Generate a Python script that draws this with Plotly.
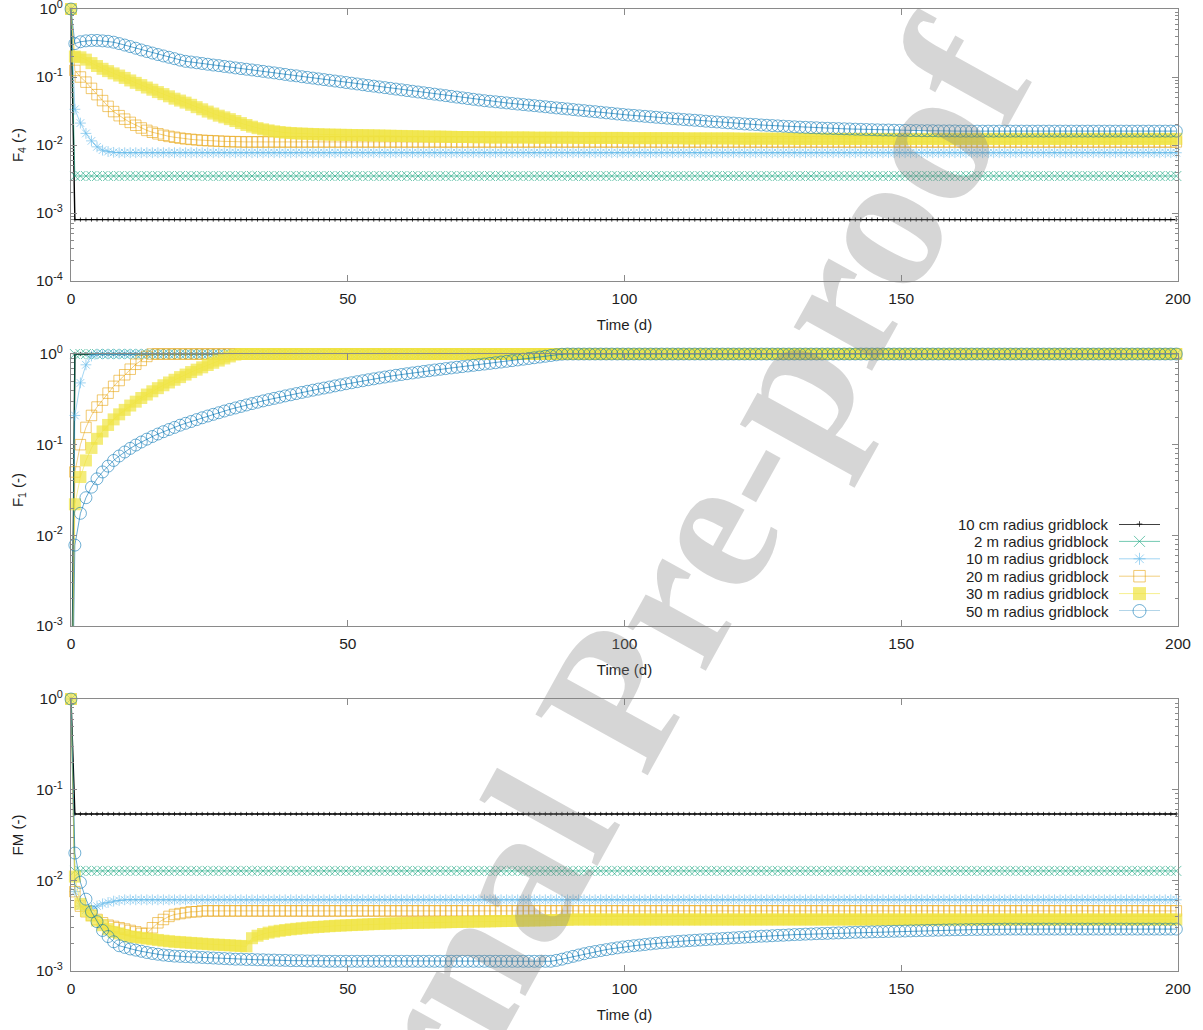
import plotly.graph_objects as go

# ---------------------------------------------------------------------------
# Simulated fractions versus time for six gridblock sizes
# ---------------------------------------------------------------------------
time_d = [0.0] + [k + 0.7 for k in range(200)]

series_names = [
    "10 cm radius gridblock",
    "2 m radius gridblock",
    "10 m radius gridblock",
    "20 m radius gridblock",
    "30 m radius gridblock",
    "50 m radius gridblock",
]

# ---- F4 ----
f4_10cm = [1.0] + [0.0008] * 200
f4_2m = [1.0] + [0.0035] * 200
f4_10m = [1.0, 0.0335, 0.021, 0.0148, 0.0115, 0.0094, 0.0084, 0.0080, 0.0078] + [0.0077] * 192
f4_20m = [1.0, 0.125, 0.100, 0.084, 0.068, 0.055, 0.045, 0.037, 0.031, 0.027, 0.024,
          0.0215, 0.0195, 0.0178, 0.0164, 0.0154, 0.0146, 0.0139, 0.0134, 0.0130, 0.0126,
          0.0123, 0.0121, 0.0119, 0.0117, 0.0116, 0.0115, 0.0114, 0.0113, 0.0112, 0.0112] + [0.0111] * 170
f4_30m = ([1.0, 0.20, 0.195, 0.18, 0.16, 0.145, 0.132, 0.122, 0.113, 0.105, 0.097,
           0.089, 0.082, 0.076, 0.070, 0.065, 0.060, 0.056, 0.052, 0.048, 0.045,
           0.042, 0.039, 0.036, 0.0335, 0.031, 0.029, 0.027, 0.0255, 0.024, 0.0225,
           0.021, 0.0197, 0.0186, 0.0177, 0.0170, 0.0164, 0.0159, 0.0155, 0.0152, 0.0150,
           0.0148, 0.0147, 0.0146, 0.0145, 0.0144, 0.0143, 0.0142, 0.0142, 0.0141, 0.0141,
           0.0140, 0.0140, 0.0139, 0.0139, 0.0138, 0.0138, 0.0137, 0.0137, 0.0136, 0.0136,
           0.0135, 0.0135, 0.0134, 0.0134, 0.0133, 0.0133, 0.0133, 0.0132, 0.0132, 0.0131,
           0.0131, 0.0131, 0.0130, 0.0130, 0.0130]
          + [0.0129] * 8 + [0.0128] * 8 + [0.0127] * 9
          + [0.0126] * 10 + [0.0125] * 10 + [0.0124] * 10
          + [0.0123] * 70)
f4_50m = ([1.0, 0.31, 0.33, 0.34, 0.345, 0.345, 0.34, 0.335, 0.325, 0.31, 0.295,
           0.28, 0.265, 0.25, 0.237, 0.225, 0.214, 0.204, 0.195, 0.186, 0.177,
           0.170, 0.166, 0.162, 0.158, 0.154, 0.150, 0.147, 0.143, 0.140, 0.136,
           0.133, 0.130, 0.127, 0.124, 0.121, 0.118, 0.115, 0.112, 0.109, 0.106,
           0.104, 0.101, 0.0987, 0.0963, 0.0939, 0.0916, 0.0894, 0.0872, 0.0851, 0.083,
           0.081, 0.079, 0.077, 0.075, 0.0733, 0.0715, 0.0698, 0.0681, 0.0664, 0.0648,
           0.0632, 0.0617, 0.0602, 0.0587, 0.0573, 0.0559, 0.0545, 0.0532, 0.0519, 0.0506,
           0.0494, 0.0482, 0.0470, 0.0459, 0.0448, 0.0440, 0.0432, 0.0424, 0.0416, 0.0408,
           0.0400, 0.0393, 0.0386, 0.0379, 0.0372, 0.0365, 0.0358, 0.0351, 0.0345, 0.0339,
           0.0332, 0.0326, 0.0320, 0.0314, 0.0309, 0.0303, 0.0297, 0.0292, 0.0286, 0.0281,
           0.0276, 0.0272, 0.0268, 0.0264, 0.0260, 0.0256, 0.0252, 0.0248, 0.0244, 0.0241,
           0.0237, 0.0234, 0.0231, 0.0228, 0.0224, 0.0221, 0.0218, 0.0215, 0.0212, 0.0210,
           0.0207, 0.0204, 0.0202, 0.0200, 0.0197, 0.0195, 0.0193, 0.0191, 0.0189, 0.0187,
           0.0185, 0.0183, 0.0182, 0.0180, 0.0179, 0.0177, 0.0176, 0.0175, 0.0174, 0.0173,
           0.0172, 0.0171, 0.0170, 0.0169, 0.0168, 0.0167, 0.0166, 0.0166, 0.0165, 0.0164,
           0.0164, 0.0163, 0.0163, 0.0162, 0.0162, 0.0162, 0.0161, 0.0161, 0.0161, 0.0161]
          + [0.0160] * 40)

# ---- F1 (zero at t = 0, stored as a tiny positive value for the log axis) ----
f1_10cm = [1e-5] + [1.0] * 200
f1_2m = [1e-5] + [1.0] * 200
f1_10m = [1e-5, 0.21, 0.48, 0.76, 0.95] + [1.0] * 196
f1_20m = [1e-5, 0.05, 0.10, 0.155, 0.21, 0.26, 0.31, 0.37, 0.44, 0.51, 0.59,
          0.68, 0.77, 0.85, 0.94, 1.0] + [1.0] * 185
f1_30m = [1e-5, 0.022, 0.044, 0.067, 0.092, 0.116, 0.140, 0.165, 0.190, 0.216, 0.242,
          0.27, 0.298, 0.327, 0.357, 0.388, 0.42, 0.452, 0.485, 0.52, 0.556,
          0.593, 0.632, 0.672, 0.713, 0.756, 0.80, 0.846, 0.893, 0.94, 0.985] + [1.0] * 170
f1_50m = ([1e-5, 0.0078, 0.0175, 0.026, 0.034, 0.042, 0.050, 0.058, 0.067, 0.075, 0.083,
           0.091, 0.099, 0.107, 0.115, 0.123, 0.131, 0.139, 0.147, 0.155, 0.164,
           0.172, 0.180, 0.189, 0.198, 0.207, 0.216, 0.225, 0.235, 0.245, 0.254,
           0.264, 0.274, 0.284, 0.294, 0.304, 0.314, 0.324, 0.334, 0.345, 0.355,
           0.366, 0.377, 0.388, 0.399, 0.410, 0.421, 0.432, 0.445, 0.457, 0.470,
           0.482, 0.495, 0.507, 0.520, 0.532, 0.545, 0.557, 0.570, 0.582, 0.594,
           0.606, 0.618, 0.630, 0.642, 0.654, 0.666, 0.678, 0.690, 0.702, 0.714,
           0.726, 0.738, 0.750, 0.762, 0.775, 0.788, 0.801, 0.815, 0.830, 0.845,
           0.860, 0.876, 0.892, 0.909, 0.926, 0.944, 0.962, 0.980, 0.995]
          + [1.0] * 111)

# ---- FM ----
fm_10cm = [1.0] + [0.054] * 200
fm_2m = [1.0] + [0.0127] * 200
fm_10m = [1.0, 0.0075, 0.0052, 0.0047, 0.0049, 0.0052, 0.0055, 0.0057, 0.0059, 0.0060] + [0.0061] * 191
fm_20m = [1.0, 0.0075, 0.0052, 0.0045, 0.0041, 0.0037, 0.0034, 0.0032, 0.0031, 0.0030, 0.0029,
          0.0028, 0.0027, 0.0026, 0.0026, 0.0030, 0.0034, 0.0037, 0.0040, 0.0042, 0.0043,
          0.0044, 0.0045, 0.0045, 0.0046] + [0.0046] * 176
fm_30m = ([1.0, 0.011, 0.0055, 0.0046, 0.0041, 0.0036, 0.0032, 0.0029, 0.0027, 0.0026, 0.0025,
           0.0024, 0.00237, 0.00232, 0.00228, 0.00224, 0.0022, 0.00216, 0.00213, 0.0021, 0.00208,
           0.00206, 0.00204, 0.00202, 0.0020, 0.00198, 0.00196, 0.00195, 0.00193, 0.00192, 0.0019,
           0.00189, 0.00187, 0.0023, 0.00245, 0.00256, 0.00265, 0.00272, 0.00278, 0.00283, 0.00288,
           0.00292, 0.00296, 0.0030, 0.00303, 0.00306, 0.00309, 0.00312, 0.00315, 0.00317, 0.00319,
           0.00321, 0.00323, 0.00325, 0.00327, 0.00329, 0.00331, 0.00333, 0.00334, 0.00336, 0.00337,
           0.00338, 0.00339, 0.0034, 0.00341, 0.00342, 0.00343, 0.00344, 0.00345, 0.00346, 0.00347,
           0.00348, 0.00349, 0.0035, 0.00351, 0.00352, 0.00353, 0.00354, 0.00355, 0.00356, 0.00357,
           0.00358, 0.00359, 0.0036, 0.00361, 0.00362, 0.00363, 0.00364, 0.00365, 0.00366, 0.00367]
          + [0.0037] * 110)
fm_50m = ([1.0, 0.020, 0.0095, 0.0062, 0.0045, 0.0035, 0.0028, 0.0024, 0.0021, 0.0019, 0.00182,
           0.00175, 0.0017, 0.00165, 0.0016, 0.00156, 0.00153, 0.0015, 0.00148, 0.00146, 0.00145,
           0.00144, 0.00143, 0.00142, 0.00141, 0.0014,
           0.00139, 0.00138, 0.00137, 0.00136, 0.00135, 0.00135, 0.00134, 0.00134, 0.00133, 0.00133,
           0.00132, 0.00132, 0.00131, 0.00131, 0.0013, 0.0013, 0.0013, 0.00129, 0.00129, 0.00129]
          + [0.00128] * 42
          + [0.00131, 0.00135, 0.0014, 0.00145, 0.0015, 0.00155, 0.0016, 0.00164, 0.00168, 0.00172,
             0.00176, 0.0018, 0.00184, 0.00187, 0.0019, 0.00193, 0.00196, 0.00199, 0.00202, 0.00205,
             0.00207, 0.0021, 0.00212,
             0.00214, 0.00216, 0.00218, 0.0022, 0.00222, 0.00224, 0.00226, 0.00228, 0.0023, 0.00232,
             0.00234, 0.00236, 0.00238, 0.0024, 0.00242, 0.00243, 0.00245, 0.00247, 0.00248, 0.0025,
             0.00252, 0.00253, 0.00255, 0.00256, 0.00258, 0.00259, 0.0026, 0.00262, 0.00263, 0.00264,
             0.00266, 0.00267, 0.00268, 0.00269, 0.0027, 0.00271, 0.00272, 0.00273, 0.00274, 0.00275,
             0.00276, 0.00277, 0.00278, 0.00279, 0.0028, 0.00281, 0.00282, 0.00283, 0.00284, 0.00285,
             0.00285, 0.00286, 0.00287, 0.00287, 0.00288, 0.00288, 0.00289, 0.00289, 0.0029, 0.0029]
          + [0.0029] * 30)

panels = [
    dict(values=[f4_10cm, f4_2m, f4_10m, f4_20m, f4_30m, f4_50m],
         ytitle="F<sub>4</sub> (-)", decades=(-4, 0)),
    dict(values=[f1_10cm, f1_2m, f1_10m, f1_20m, f1_30m, f1_50m],
         ytitle="F<sub>1</sub> (-)", decades=(-3, 0)),
    dict(values=[fm_10cm, fm_2m, fm_10m, fm_20m, fm_30m, fm_50m],
         ytitle="FM (-)", decades=(-3, 0)),
]
for p in panels:
    for v in p["values"]:
        assert len(v) == len(time_d), len(v)

x_ticks = [0, 50, 100, 150, 200]

# ---------------------------------------------------------------------------
# Styling
# ---------------------------------------------------------------------------
def rgba(rgb, a):
    return "rgba(%d,%d,%d,%.2f)" % (rgb[0], rgb[1], rgb[2], a)

styles = [
    dict(rgb=(0, 0, 0), symbol="cross-thin", size=3, lw=1.4, la=1.0, ma=1.0, filled=False),
    dict(rgb=(0, 158, 115), symbol="x-thin", size=10, lw=1.0, la=0.55, ma=0.8, filled=False),
    dict(rgb=(86, 180, 233), symbol="asterisk", size=9, lw=1.0, la=0.55, ma=0.8, filled=False),
    dict(rgb=(230, 159, 0), symbol="square-open", size=10.5, lw=1.0, la=0.5, ma=0.8, filled=False),
    dict(rgb=(240, 228, 66), symbol="square", size=12, lw=1.0, la=0.6, ma=1.0, filled=True),
    dict(rgb=(0, 114, 178), symbol="circle-open", size=12, lw=1.0, la=0.6, ma=0.8, filled=False),
]

FRAME = "#8a8a8a"
TEXT = "#1e1e1e"
FONT = "Liberation Sans, Arial, sans-serif"

W, H = 1203, 1030
ML, MR, MT, MB = 71, 25, 9, 59
plot_h = H - MT - MB
plot_w = W - ML - MR


def py(px_y):
    """Vertical pixel position -> paper fraction."""
    return 1 - (px_y - MT) / plot_h


def px(px_x):
    """Horizontal pixel position -> paper fraction."""
    return (px_x - ML) / plot_w


domains = [[py(281), py(9)], [py(626), py(354)], [py(971), py(699)]]

fig = go.Figure()

for pi, panel in enumerate(panels):
    ax = "" if pi == 0 else str(pi + 1)
    lo = 10 ** panel["decades"][0]
    for si, vals in enumerate(panel["values"]):
        st = styles[si]
        # points below the axis range (zero values) are kept for the line only
        sizes = [0 if v < lo else st["size"] for v in vals]
        mcol = rgba(st["rgb"], st["ma"])
        fig.add_trace(go.Scatter(
            x=time_d, y=vals, mode="lines+markers",
            name=series_names[si], showlegend=False,
            xaxis="x" + ax, yaxis="y" + ax,
            cliponaxis=False,
            line=dict(color=rgba(st["rgb"], st["la"]), width=st["lw"]),
            marker=dict(symbol=st["symbol"], size=sizes, color=mcol,
                        line=dict(color=mcol, width=0 if st["filled"] else 1.0)),
            hoverinfo="skip",
        ))

    d0, d1 = panel["decades"]
    tickvals = [10.0 ** k for k in range(d0, d1 + 1)]
    ticktext = ["10<sup>%d</sup>" % k for k in range(d0, d1 + 1)]
    minor_vals = [m * 10.0 ** k for k in range(d0, d1) for m in range(2, 10)]

    common = dict(showline=True, linecolor=FRAME, linewidth=1, mirror="ticks",
                  ticks="inside", tickcolor=FRAME, ticklen=6, tickwidth=1,
                  showgrid=False, zeroline=False, ticklabeloverflow="allow",
                  tickfont=dict(family=FONT, size=15.5, color=TEXT))
    fig.layout["xaxis" + ax] = dict(
        common, domain=[0, 1], anchor="y" + ax, range=[0, 200],
        tickmode="array", tickvals=x_ticks, ticktext=[str(v) for v in x_ticks],
        ticklabelstandoff=3,
        title=dict(text="Time (d)", font=dict(family=FONT, size=15, color=TEXT), standoff=13),
    )
    fig.layout["yaxis" + ax] = dict(
        common, domain=domains[pi], anchor="x" + ax, type="log", range=[d0, d1],
        tickmode="array", tickvals=tickvals, ticktext=ticktext,
        ticklabelstandoff=4,
        minor=dict(tickmode="array", tickvals=minor_vals, ticks="inside", ticklen=3,
                   tickcolor=FRAME, showgrid=False),
        title=dict(text=panel["ytitle"], font=dict(family=FONT, size=15, color=TEXT), standoff=8),
    )

# ---------------------------------------------------------------------------
# Key in the middle panel: text on the left, sample on the right
# ---------------------------------------------------------------------------
key_top, key_bot = 524, 611
n_key = len(series_names)
fig.layout["xaxis4"] = dict(domain=[px(1119), px(1160)], range=[0, 1], visible=False,
                            anchor="y4", fixedrange=True)
fig.layout["yaxis4"] = dict(domain=[py(key_bot), py(key_top)], range=[n_key - 1, 0],
                            visible=False, anchor="x4", fixedrange=True)
for si, name in enumerate(series_names):
    st = styles[si]
    mcol = rgba(st["rgb"], st["ma"])
    fig.add_trace(go.Scatter(
        x=[0, 0.5, 1], y=[si, si, si], mode="lines+markers", showlegend=False,
        xaxis="x4", yaxis="y4", cliponaxis=False, hoverinfo="skip",
        line=dict(color=rgba(st["rgb"], st["la"]), width=st["lw"]),
        marker=dict(symbol=st["symbol"], size=[0, st["size"] + 1, 0], color=mcol,
                    line=dict(color=mcol, width=0 if st["filled"] else 1.0)),
    ))
    row_px = key_top + si * (key_bot - key_top) / (n_key - 1)
    fig.add_annotation(x=px(1111), y=py(row_px), xref="paper", yref="paper", text=name,
                       showarrow=False, xanchor="right", yanchor="middle",
                       font=dict(family=FONT, size=15, color=TEXT))

# Watermark
fig.add_annotation(
    text="<b>Journal Pre-proof</b>", xref="paper", yref="paper",
    x=px(614), y=py(700),
    xanchor="center", yanchor="middle", showarrow=False, textangle=-61,
    font=dict(family="Liberation Serif, Times New Roman, serif", size=195,
              color="rgba(128,128,128,0.32)"),
)

fig.update_layout(
    width=W, height=H,
    margin=dict(l=ML, r=MR, t=MT, b=MB, autoexpand=False),
    paper_bgcolor="white", plot_bgcolor="white",
    font=dict(family=FONT, size=15, color=TEXT),
    showlegend=False,
)

fig.write_html("out.html")
